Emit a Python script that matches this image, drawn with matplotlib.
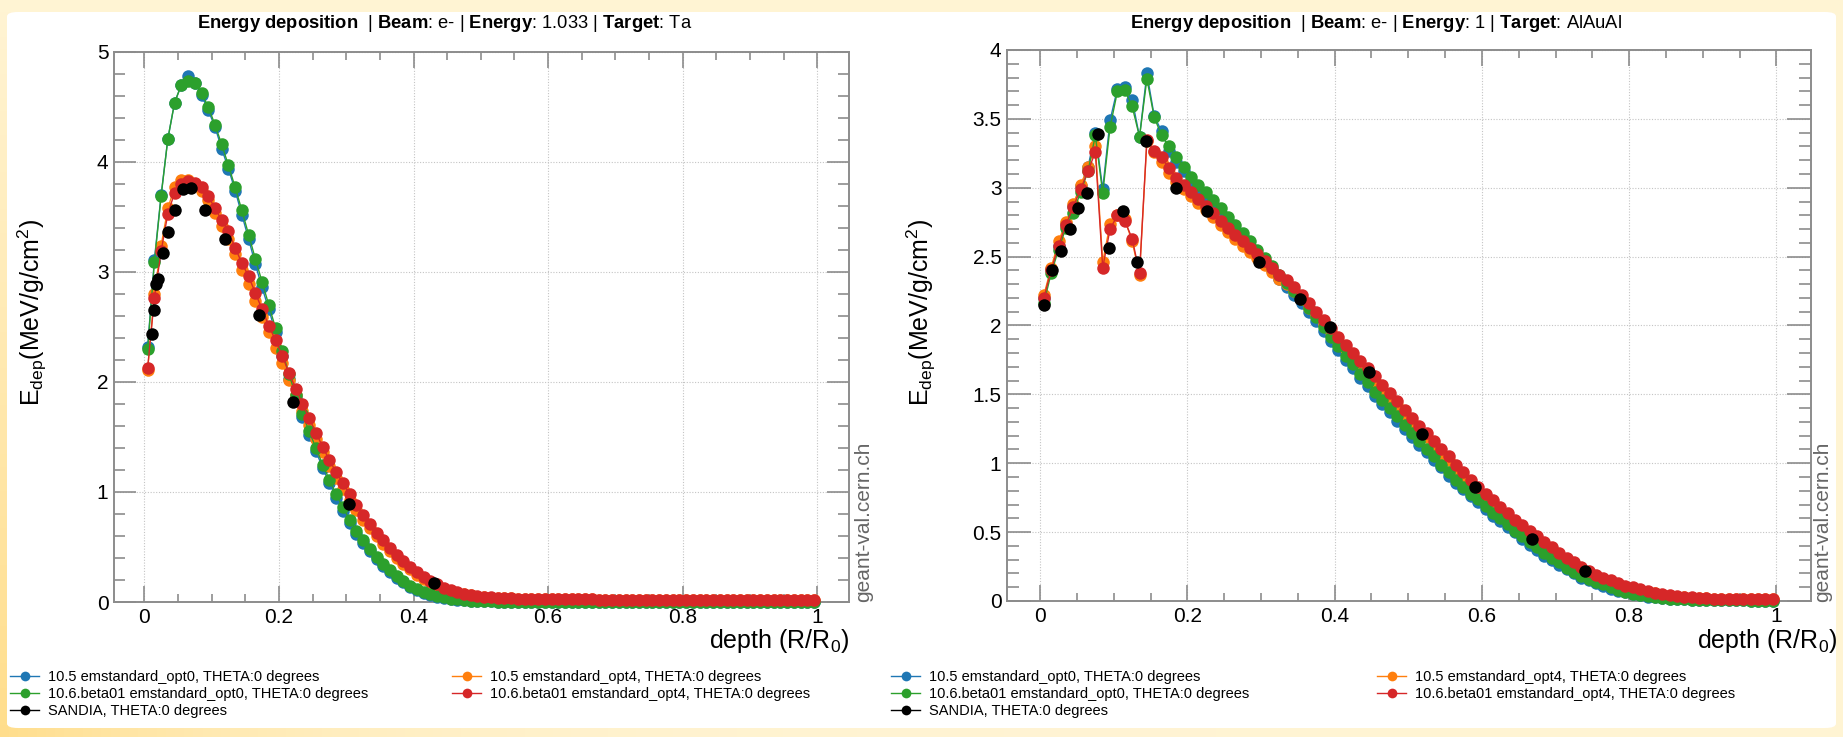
import matplotlib.pyplot as plt
import numpy as np
from matplotlib.lines import Line2D
from matplotlib.patches import FancyBboxPatch
from matplotlib.ticker import FuncFormatter, MultipleLocator

plt.rcParams["font.family"] = ["Liberation Sans", "DejaVu Sans"]
plt.rcParams["mathtext.fontset"] = "custom"
plt.rcParams["mathtext.rm"] = "Liberation Sans"
plt.rcParams["mathtext.bf"] = "Liberation Sans:bold"
plt.rcParams["mathtext.it"] = "Liberation Sans:italic"

W, H = 1843, 737

# bin centres in R/R0, 100 bins
depth = np.arange(0.005, 1.0, 0.01)

LABELS = [
    "10.5 emstandard_opt0, THETA:0 degrees",
    "10.5 emstandard_opt4, THETA:0 degrees",
    "10.6.beta01 emstandard_opt0, THETA:0 degrees",
    "10.6.beta01 emstandard_opt4, THETA:0 degrees",
    "SANDIA, THETA:0 degrees",
]
COLORS = ["#1f77b4", "#ff7f0e", "#2ca02c", "#d62728", "black"]

# ---- Target Ta, 1.033 MeV ----
ta_105_opt0 = [
    2.32, 3.11, 3.70, 4.21, 4.54, 4.70, 4.78, 4.72, 4.61, 4.47,
    4.32, 4.12, 3.94, 3.74, 3.52, 3.30, 3.07, 2.86, 2.66, 2.45,
    2.24, 2.03, 1.85, 1.68, 1.52, 1.37, 1.22, 1.08, 0.95, 0.83,
    0.72, 0.62, 0.54, 0.46, 0.39, 0.33, 0.27, 0.22, 0.18, 0.14,
    0.11, 0.085, 0.065, 0.05, 0.038, 0.028, 0.02, 0.015, 0.011, 0.008,
    0.006, 0.005, 0.004, 0.003, 0.003, 0.002, 0.002, 0.002, 0.001, 0.001,
    0.001, 0.001, 0.001, 0.001, 0.001, 0.001, 0.001, 0.001, 0.001, 0.001,
    0.001, 0.001, 0.001, 0.001, 0.001, 0.001, 0.001, 0.001, 0.001, 0.001,
    0.0, 0.0, 0.0, 0.0, 0.0, 0.0, 0.0, 0.0, 0.0, 0.0,
    0.0, 0.0, 0.0, 0.0, 0.0, 0.0, 0.0, 0.0, 0.0, 0.0,
]
ta_105_opt4 = [
    2.11, 2.80, 3.24, 3.58, 3.77, 3.84, 3.84, 3.80, 3.74, 3.65,
    3.54, 3.42, 3.30, 3.16, 3.02, 2.89, 2.74, 2.59, 2.45, 2.31,
    2.17, 2.02, 1.88, 1.74, 1.61, 1.48, 1.36, 1.24, 1.13, 1.03,
    0.93, 0.84, 0.75, 0.67, 0.60, 0.53, 0.46, 0.40, 0.35, 0.30,
    0.25, 0.21, 0.18, 0.15, 0.12, 0.10, 0.085, 0.07, 0.06, 0.05,
    0.045, 0.04, 0.037, 0.034, 0.032, 0.030, 0.029, 0.028, 0.027, 0.026,
    0.026, 0.025, 0.025, 0.024, 0.024, 0.023, 0.023, 0.022, 0.022, 0.022,
    0.021, 0.021, 0.021, 0.021, 0.020, 0.020, 0.020, 0.020, 0.020, 0.020,
    0.019, 0.019, 0.019, 0.019, 0.019, 0.019, 0.019, 0.019, 0.019, 0.019,
    0.019, 0.019, 0.019, 0.019, 0.019, 0.019, 0.019, 0.019, 0.019, 0.019,
]
ta_106_opt0 = [
    2.30, 3.09, 3.69, 4.21, 4.54, 4.70, 4.74, 4.72, 4.63, 4.50,
    4.34, 4.16, 3.97, 3.77, 3.56, 3.34, 3.12, 2.91, 2.70, 2.49,
    2.28, 2.07, 1.88, 1.71, 1.55, 1.40, 1.25, 1.11, 0.98, 0.86,
    0.75, 0.65, 0.56, 0.48, 0.41, 0.35, 0.29, 0.24, 0.19, 0.15,
    0.12, 0.09, 0.07, 0.055, 0.042, 0.031, 0.023, 0.017, 0.012, 0.009,
    0.007, 0.005, 0.004, 0.003, 0.003, 0.002, 0.002, 0.002, 0.001, 0.001,
    0.001, 0.001, 0.001, 0.001, 0.001, 0.001, 0.001, 0.001, 0.001, 0.001,
    0.001, 0.001, 0.001, 0.001, 0.001, 0.001, 0.001, 0.001, 0.001, 0.001,
    0.0, 0.0, 0.0, 0.0, 0.0, 0.0, 0.0, 0.0, 0.0, 0.0,
    0.0, 0.0, 0.0, 0.0, 0.0, 0.0, 0.0, 0.0, 0.0, 0.0,
]
ta_106_opt4 = [
    2.13, 2.76, 3.19, 3.53, 3.72, 3.80, 3.83, 3.81, 3.77, 3.69,
    3.58, 3.47, 3.37, 3.22, 3.08, 2.96, 2.81, 2.66, 2.51, 2.38,
    2.24, 2.08, 1.94, 1.80, 1.67, 1.54, 1.41, 1.29, 1.18, 1.08,
    0.98, 0.88, 0.79, 0.71, 0.63, 0.56, 0.49, 0.43, 0.37, 0.32,
    0.27, 0.23, 0.19, 0.16, 0.13, 0.11, 0.09, 0.075, 0.063, 0.055,
    0.048, 0.042, 0.038, 0.035, 0.032, 0.030, 0.029, 0.028, 0.027, 0.026,
    0.026, 0.025, 0.025, 0.024, 0.024, 0.023, 0.023, 0.022, 0.022, 0.022,
    0.021, 0.021, 0.021, 0.021, 0.020, 0.020, 0.020, 0.020, 0.020, 0.020,
    0.019, 0.019, 0.019, 0.019, 0.019, 0.019, 0.019, 0.019, 0.019, 0.019,
    0.019, 0.019, 0.019, 0.019, 0.019, 0.019, 0.019, 0.019, 0.019, 0.019,
]
ta_sandia_x = [0.012, 0.015, 0.018, 0.021, 0.028, 0.035, 0.045, 0.057,
               0.070, 0.090, 0.120, 0.170, 0.221, 0.304, 0.430]
ta_sandia_y = [2.44, 2.65, 2.89, 2.94, 3.17, 3.36, 3.56, 3.75,
               3.76, 3.56, 3.30, 2.61, 1.82, 0.89, 0.17]

# ---- Target AlAuAl, 1 MeV ----
alauau_105_opt0 = [
    2.20, 2.41, 2.58, 2.74, 2.87, 3.01, 3.15, 3.40, 2.99, 3.49,
    3.72, 3.73, 3.64, 3.37, 3.83, 3.52, 3.41, 3.27, 3.19, 3.12,
    3.05, 2.99, 2.94, 2.88, 2.82, 2.76, 2.70, 2.64, 2.58, 2.52,
    2.46, 2.40, 2.34, 2.28, 2.22, 2.16, 2.10, 2.03, 1.96, 1.89,
    1.82, 1.75, 1.69, 1.62, 1.56, 1.49, 1.43, 1.37, 1.31, 1.25,
    1.19, 1.13, 1.08, 1.02, 0.97, 0.91, 0.86, 0.81, 0.76, 0.72,
    0.67, 0.62, 0.58, 0.54, 0.50, 0.45, 0.41, 0.37, 0.33, 0.30,
    0.26, 0.23, 0.20, 0.17, 0.15, 0.13, 0.11, 0.09, 0.075, 0.062,
    0.05, 0.04, 0.032, 0.026, 0.021, 0.017, 0.014, 0.011, 0.009, 0.008,
    0.007, 0.006, 0.005, 0.005, 0.004, 0.004, 0.003, 0.003, 0.003, 0.002,
]
alauau_105_opt4 = [
    2.22, 2.42, 2.61, 2.75, 2.88, 3.02, 3.15, 3.30, 2.46, 2.74,
    2.80, 2.77, 2.61, 2.37, 3.34, 3.26, 3.19, 3.11, 3.04, 2.99,
    2.94, 2.89, 2.84, 2.79, 2.73, 2.68, 2.63, 2.58, 2.53, 2.49,
    2.44, 2.39, 2.34, 2.30, 2.25, 2.19, 2.13, 2.07, 2.01, 1.95,
    1.89, 1.83, 1.77, 1.71, 1.66, 1.60, 1.54, 1.48, 1.42, 1.36,
    1.30, 1.24, 1.19, 1.13, 1.07, 1.02, 0.96, 0.91, 0.85, 0.80,
    0.75, 0.70, 0.65, 0.61, 0.56, 0.52, 0.48, 0.44, 0.41, 0.37,
    0.33, 0.29, 0.26, 0.23, 0.20, 0.18, 0.16, 0.14, 0.12, 0.10,
    0.09, 0.078, 0.066, 0.055, 0.046, 0.039, 0.032, 0.028, 0.024, 0.021,
    0.019, 0.017, 0.016, 0.015, 0.014, 0.013, 0.012, 0.012, 0.011, 0.011,
]
alauau_106_opt0 = [
    2.16, 2.38, 2.55, 2.71, 2.82, 2.97, 3.12, 3.38, 2.96, 3.44,
    3.70, 3.71, 3.59, 3.37, 3.79, 3.51, 3.38, 3.30, 3.22, 3.15,
    3.08, 3.02, 2.97, 2.91, 2.85, 2.79, 2.73, 2.67, 2.61, 2.55,
    2.49, 2.43, 2.37, 2.31, 2.25, 2.19, 2.13, 2.06, 1.99, 1.92,
    1.85, 1.78, 1.72, 1.65, 1.59, 1.52, 1.46, 1.40, 1.34, 1.28,
    1.22, 1.16, 1.10, 1.05, 0.99, 0.94, 0.88, 0.83, 0.78, 0.74,
    0.69, 0.64, 0.60, 0.56, 0.51, 0.47, 0.43, 0.39, 0.35, 0.31,
    0.28, 0.24, 0.21, 0.18, 0.16, 0.14, 0.12, 0.10, 0.08, 0.066,
    0.054, 0.043, 0.034, 0.027, 0.022, 0.018, 0.014, 0.012, 0.01, 0.008,
    0.007, 0.006, 0.005, 0.005, 0.004, 0.004, 0.003, 0.003, 0.003, 0.002,
]
alauau_106_opt4 = [
    2.20, 2.40, 2.58, 2.73, 2.86, 2.99, 3.12, 3.26, 2.42, 2.70,
    2.80, 2.76, 2.63, 2.38, 3.35, 3.27, 3.22, 3.14, 3.07, 3.02,
    2.97, 2.92, 2.87, 2.82, 2.76, 2.71, 2.66, 2.61, 2.56, 2.52,
    2.47, 2.42, 2.37, 2.33, 2.28, 2.22, 2.16, 2.10, 2.04, 1.98,
    1.92, 1.86, 1.80, 1.74, 1.69, 1.63, 1.57, 1.51, 1.45, 1.39,
    1.33, 1.27, 1.22, 1.16, 1.10, 1.05, 0.99, 0.94, 0.88, 0.83,
    0.78, 0.73, 0.68, 0.64, 0.59, 0.55, 0.51, 0.47, 0.43, 0.39,
    0.35, 0.31, 0.28, 0.25, 0.22, 0.19, 0.17, 0.15, 0.13, 0.11,
    0.10, 0.085, 0.072, 0.06, 0.05, 0.042, 0.035, 0.03, 0.026, 0.022,
    0.02, 0.018, 0.016, 0.015, 0.014, 0.013, 0.012, 0.012, 0.011, 0.011,
]
alauau_sandia_x = [0.005, 0.016, 0.028, 0.040, 0.052, 0.064, 0.079, 0.093,
                   0.112, 0.131, 0.144, 0.185, 0.226, 0.297, 0.353, 0.394,
                   0.447, 0.519, 0.590, 0.668, 0.740]
alauau_sandia_y = [2.15, 2.40, 2.54, 2.70, 2.85, 2.96, 3.39, 2.56,
                   2.83, 2.46, 3.34, 3.00, 2.83, 2.46, 2.19, 1.99,
                   1.66, 1.21, 0.83, 0.45, 0.22]

FRAME = "#8c8c8c"
MS = 9


def fpos(x, y):
    return x / W, 1 - y / H


def draw_panel(ax, curves, sx, sy, ymax, ymaj, ymin, ytick_len):
    for vals, col in zip(curves, COLORS[:4]):
        ax.plot(depth, vals, color=col, lw=1.0, marker="o", ms=MS,
                mew=0, clip_on=False, zorder=3)
    # SANDIA reference points are drawn without a joining line
    ax.plot(sx, sy, ls="none", color="black", marker="o", ms=MS, mew=0,
            clip_on=False, zorder=4)

    ax.set_xlim(-0.045, 1.047)
    ax.set_ylim(0, ymax)
    ax.xaxis.set_major_locator(MultipleLocator(0.2))
    ax.xaxis.set_minor_locator(MultipleLocator(0.05))
    ax.yaxis.set_major_locator(MultipleLocator(ymaj))
    ax.yaxis.set_minor_locator(MultipleLocator(ymin))
    fmt = FuncFormatter(lambda v, p: f"{v:g}")
    ax.xaxis.set_major_formatter(fmt)
    ax.yaxis.set_major_formatter(fmt)

    ax.tick_params(which="both", direction="in", top=True, right=True,
                   color=FRAME, width=1.2, labelsize=15, pad=4)
    ax.tick_params(axis="x", which="major", length=11.5)
    ax.tick_params(axis="x", which="minor", length=5.8)
    ax.tick_params(axis="y", which="major", length=ytick_len)
    ax.tick_params(axis="y", which="minor", length=ytick_len / 2)
    for sp in ax.spines.values():
        sp.set_color(FRAME)
        sp.set_linewidth(1.4)
    ax.grid(True, which="major", color="#c4c4c4", ls=(0, (1, 1.5)), lw=0.8)
    ax.set_axisbelow(True)


fig = plt.figure(figsize=(W / 100, H / 100), dpi=100)
fig.patch.set_facecolor("#fff4d4")

# pale yellow page border, a bit stronger towards the lower left
bg = fig.add_axes([0, 0, 1, 1], zorder=-30)
yy, xx = np.mgrid[0:1:60j, 0:1:200j]
shade = np.clip(yy * (1 - xx) ** 6, 0, 1)
pale = np.array([1.0, 0.957, 0.83])
deep = np.array([1.0, 0.87, 0.55])
bg.imshow(pale + shade[..., None] * (deep - pale), aspect="auto",
          extent=(0, 1, 0, 1), origin="upper")
bg.set_axis_off()
fig.add_artist(FancyBboxPatch((7 / W, 9 / H), 1829 / W, 716 / H,
                              boxstyle="round,pad=0,rounding_size=0.006",
                              transform=fig.transFigure, facecolor="white",
                              edgecolor="none", zorder=-10))

ax1 = fig.add_axes([114 / W, 1 - 602 / H, 735 / W, 550 / H])
ax2 = fig.add_axes([1007 / W, 1 - 601 / H, 804 / W, 551 / H])

draw_panel(ax1, [ta_105_opt0, ta_105_opt4, ta_106_opt0, ta_106_opt4],
           ta_sandia_x, ta_sandia_y, 5, 1, 0.2, 15.8)
draw_panel(ax2, [alauau_105_opt0, alauau_105_opt4, alauau_106_opt0, alauau_106_opt4],
           alauau_sandia_x, alauau_sandia_y, 4, 0.5, 0.1, 17.3)

titles = [
    (445, r"$\mathbf{Energy\ deposition}$  | $\mathbf{Beam}$: e- | $\mathbf{Energy}$: 1.033 | $\mathbf{Target}$: Ta"),
    (1376, r"$\mathbf{Energy\ deposition}$  | $\mathbf{Beam}$: e- | $\mathbf{Energy}$: 1 | $\mathbf{Target}$: AlAuAl"),
]
for xc, t in titles:
    fig.text(*fpos(xc, 23), t, ha="center", va="center", fontsize=13.2)

ylab = r"E$_{\rm dep}$(MeV/g/cm$^{2}$)"
fig.text(*fpos(32, 312), ylab, rotation=90, ha="center", va="center", fontsize=18)
fig.text(*fpos(921, 312), ylab, rotation=90, ha="center", va="center", fontsize=18)

xlab = r"depth (R/R$_{0}$)"
fig.text(*fpos(849, 641), xlab, ha="right", va="center", fontsize=18)
fig.text(*fpos(1837, 641), xlab, ha="right", va="center", fontsize=18)

for xg in (864, 1823):
    fig.text(*fpos(xg, 602), "geant-val.cern.ch", rotation=90, ha="center",
             va="bottom", fontsize=15, color="#666666")

# legends: two columns under each panel
handles = [Line2D([], [], color=c, lw=1.0, marker="o", ms=7, mew=0) for c in COLORS]
cols = [[0, 2, 4], [1, 3]]
for x_first, x_second in ((10, 452), (891, 1377)):
    for xs, idx in ((x_first, cols[0]), (x_second, cols[1])):
        fig.legend([handles[i] for i in idx], [LABELS[i] for i in idx],
                   loc="upper left", bbox_to_anchor=fpos(xs, 670),
                   frameon=False, borderpad=0, borderaxespad=0,
                   handlelength=2.0, handletextpad=0.6, labelspacing=0.2,
                   fontsize=10.5)

fig.savefig("out.png", dpi=100, facecolor=fig.get_facecolor())
